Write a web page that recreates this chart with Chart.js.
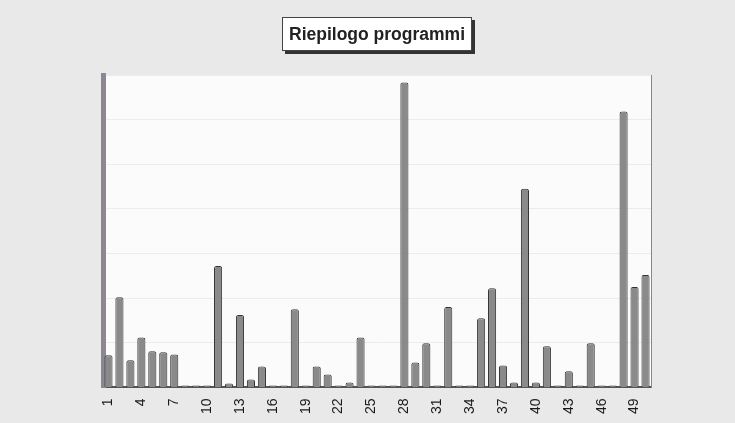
<!DOCTYPE html>
<html>
<head>
<meta charset="utf-8">
<script src="https://cdn.jsdelivr.net/npm/chart.js@4/dist/chart.umd.min.js"></script>
<style>
  html, body { margin: 0; padding: 0; background: #e9e9e9; }
  #wrap { width: 735px; height: 423px; }
</style>
</head>
<body>
<div id="wrap"><canvas id="riepilogo" width="735" height="423"></canvas></div>
<script>
// Riepilogo programmi - one bar per programme
const titleText = 'Riepilogo programmi';
const programmi = [];
for (let i = 1; i <= 50; i++) programmi.push(String(i));
const valori = [
    7.2, 20.2, 6.1, 11.2, 8.1, 7.9, 7.4, 0, 0, 0,
    27.2, 0.9, 16.2, 1.8, 4.7, 0, 0, 17.5, 0, 4.7,
    2.9, 0, 1.1, 11.2, 0, 0, 0, 68.3, 5.6, 9.9,
    0, 18, 0, 0, 15.5, 22.2, 4.9, 1.1, 44.5, 1.1,
    9.2, 0, 3.6, 0, 9.9, 0, 0, 61.8, 22.5, 25.2
];
const yMax = 70;
const yStep = 10;

// background, white plot area and the boxed title
const sfondo = {
    id: 'sfondo',
    beforeDraw(chart) {
        const {ctx, chartArea} = chart;
        ctx.save();
        ctx.fillStyle = '#e9e9e9';
        ctx.fillRect(0, 0, chart.width, chart.height);
        ctx.fillStyle = '#fbfbfb';
        ctx.fillRect(chartArea.left, chartArea.top, chartArea.right - chartArea.left, chartArea.bottom - chartArea.top);
        ctx.restore();
    },
    afterDraw(chart) {
        const ctx = chart.ctx;
        const cx = (chart.chartArea.left + chart.chartArea.right) / 2;
        ctx.save();
        ctx.font = 'bold 17.5px "Liberation Sans", Arial, sans-serif';
        const w = ctx.measureText(titleText).width + 14;
        const x = cx - w / 2, y = 17, h = 34;
        ctx.fillStyle = '#333';
        ctx.fillRect(x + 3, y + 3, w, h);
        ctx.fillStyle = '#fff';
        ctx.fillRect(x, y, w, h);
        ctx.strokeStyle = '#444';
        ctx.lineWidth = 1;
        ctx.strokeRect(x + 0.5, y + 0.5, w - 1, h - 1);
        ctx.fillStyle = '#222';
        ctx.textAlign = 'center';
        ctx.textBaseline = 'middle';
        ctx.fillText(titleText, cx, y + h / 2 + 1);
        ctx.restore();
    }
};

new Chart(document.getElementById('riepilogo'), {
    type: 'bar',
    data: {
        labels: programmi,
        datasets: [{
            data: valori,
            backgroundColor: '#8a8a8a',
            borderColor: '#333',
            borderWidth: 1,
            borderSkipped: 'bottom',
            borderRadius: {topLeft: 2, topRight: 2},
            minBarLength: 2,
            barPercentage: 0.74,
            categoryPercentage: 1.0
        }]
    },
    options: {
        responsive: false,
        animation: false,
        layout: {padding: {left: 103, right: 76, top: 75, bottom: 6}},
        plugins: {
            legend: {display: false},
            title: {display: false},
            tooltip: {enabled: false}
        },
        scales: {
            x: {
                grid: {display: false},
                border: {display: true, color: '#555', width: 2},
                ticks: {
                    autoSkip: false,
                    minRotation: 90,
                    maxRotation: 90,
                    padding: 3,
                    color: '#1a1a1a',
                    font: {family: '"Liberation Sans", Arial, sans-serif', size: 14},
                    callback: function (value, index) {
                        return index % 3 === 0 ? this.getLabelForValue(value) : '';
                    }
                }
            },
            y: {
                min: 0,
                max: yMax,
                ticks: {display: false, stepSize: yStep},
                grid: {color: '#ececec', drawTicks: false},
                border: {display: true, color: '#8d8794', width: 5}
            },
            y2: {
                position: 'right',
                min: 0,
                max: yMax,
                ticks: {display: false},
                grid: {display: false},
                border: {display: true, color: '#888', width: 1}
            }
        }
    },
    plugins: [sfondo]
});
</script>
</body>
</html>
